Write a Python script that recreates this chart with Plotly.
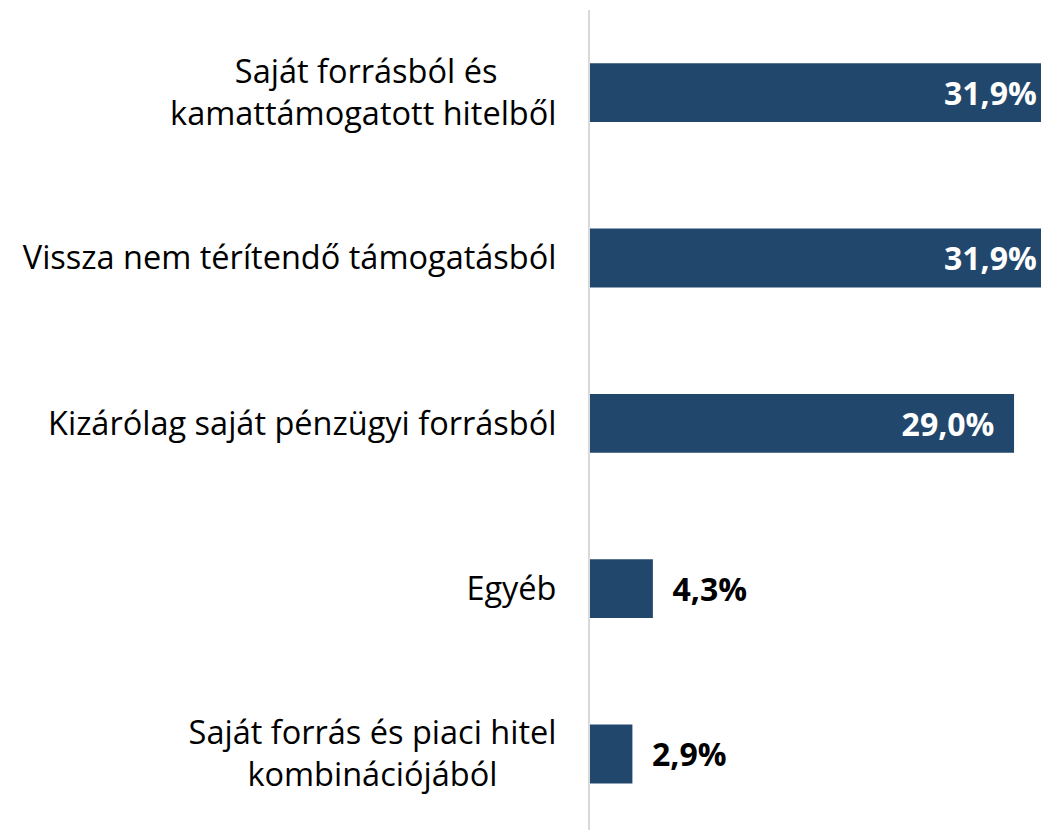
import plotly.graph_objects as go

# Data (bottom to top order for the y axis)
categories = [
    "Saját forrás és piaci hitel<br>kombinációjából",
    "Egyéb",
    "Kizárólag saját pénzügyi forrásból",
    "Vissza nem térítendő támogatásból",
    "Saját forrásból és<br>kamattámogatott hitelből",
]
values = [2.9, 4.3, 29.0, 31.9, 31.9]
value_labels = ["2,9%", "4,3%", "29,0%", "31,9%", "31,9%"]

# Tick labels, padded so that two-line labels look centred
NB = "\u00a0"
tick_text = [
    "Saját forrás és piaci hitel<br>kombinációjából" + NB * 7,
    "Egyéb",
    "Kizárólag saját pénzügyi forrásból",
    "Vissza nem térítendő támogatásból",
    "Saját forrásból és" + NB * 7 + "<br>kamattámogatott hitelből",
]

FONT = "Open Sans"
BAR = "#22476D"
inside = [v > 10 for v in values]
texts = [(t + NB * 2) if ins else (NB * 2 + t) for t, ins in zip(value_labels, inside)]
positions = ["inside" if ins else "outside" for ins in inside]
colors = ["white" if ins else "black" for ins in inside]

fig = go.Figure(
    go.Bar(
        y=categories,
        x=values,
        orientation="h",
        marker=dict(color=BAR, line=dict(width=0)),
        text=texts,
        textposition=positions,
        insidetextanchor="end",
        textfont=dict(family=FONT, size=32, color=colors, weight="bold"),
        textangle=0,
        cliponaxis=True,
        width=0.356,
    )
)

# The page body has an 8px margin, so the figure is sized to end at the window edge
fig.update_layout(
    width=1041,
    height=822,
    margin=dict(l=581.5, r=0, t=2, b=0),
    paper_bgcolor="white",
    plot_bgcolor="white",
    showlegend=False,
    uniformtext=dict(minsize=10, mode="show"),
    font=dict(family=FONT, size=32, color="black"),
)
fig.update_xaxes(
    range=[0, 31.39],
    visible=False,
    showgrid=False,
    zeroline=False,
)
fig.update_yaxes(
    tickmode="array",
    tickvals=categories,
    ticktext=tick_text,
    range=[-0.46, 4.5],
    showline=True,
    linecolor="#D9D9D9",
    linewidth=2,
    ticks="",
    showgrid=False,
    ticklabelstandoff=25,
    tickfont=dict(family=FONT, size=32.5, color="black"),
)

fig.write_html("out.html")
